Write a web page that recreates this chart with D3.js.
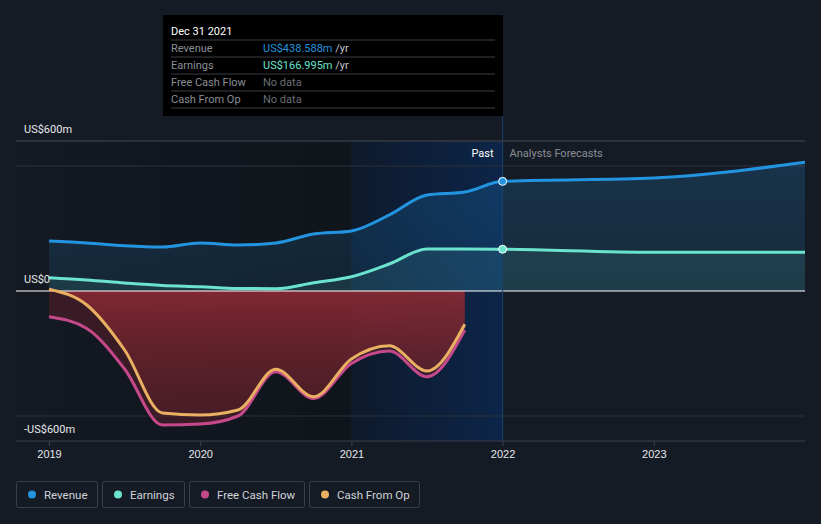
<!DOCTYPE html>
<html>
<head>
<meta charset="utf-8">
<script src="https://cdn.jsdelivr.net/npm/d3@7"></script>
<style>
  body { margin: 0; background: #151b25; }
  svg { display: block; font-family: Roboto, "Noto Sans", sans-serif; }
</style>
</head>
<body>
<div id="chart"></div>
<script>
// values in US$m, dates as decimal years
const pastDates = [2019, 2019.25, 2019.5, 2019.75, 2020, 2020.25, 2020.5, 2020.75, 2021, 2021.25, 2021.5, 2021.75, 2022];
const revenuePast = [200, 192, 181, 176, 192, 184, 192, 228, 240, 304, 384, 396, 438.588];
const earningsPast = [53, 44, 32, 22, 17, 10, 9, 33, 57, 108, 168, 168, 166.995];

const forecastDates = [2022, 2023, 2024];
const revenueForecast = [438.588, 452, 515];
const earningsForecast = [166.995, 155, 155];

const cashDates = [2019, 2019.25, 2019.5, 2019.75, 2020, 2020.25, 2020.5, 2020.75, 2021, 2021.25, 2021.5, 2021.75];
const fcf = [-103, -150, -312, -536, -532, -500, -323, -430, -290, -240, -343, -156];
const cfo = [7, -56, -236, -488, -496, -476, -313, -423, -272, -219, -320, -133];

const yearTicks = [2019, 2020, 2021, 2022, 2023];
const yLabels = [[600, "US$600m"], [0, "US$0"], [-600, "-US$600m"]];
const gridValues = [600, 500, -500];

const seriesNames = ["Revenue", "Earnings", "Free Cash Flow", "Cash From Op"];
const seriesColors = ["#2394df", "#6be3cf", "#c5498a", "#e9b061"];

const tipRows = [
  ["Revenue", "US$438.588m", " /yr", "#2394df"],
  ["Earnings", "US$166.995m", " /yr", "#6be3cf"],
  ["Free Cash Flow", "No data", "", "#6b6f76"],
  ["Cash From Op", "No data", "", "#6b6f76"]
];

const W = 821, H = 524;
const svg = d3.select("#chart").append("svg").attr("width", W).attr("height", H);

const x = d3.scaleLinear().domain([2019, 2024]).range([49, 805]);
const y = d3.scaleLinear().domain([-600, 600]).range([441, 141]);
const left = 16, right = 805, now = 2022, pastStart = 2021;

const defs = svg.append("defs");
const g1 = defs.append("linearGradient").attr("id", "pastBand").attr("x1", 0).attr("x2", 1).attr("y1", 0).attr("y2", 0);
g1.append("stop").attr("offset", 0).attr("stop-color", "#0e1a2c");
g1.append("stop").attr("offset", 1).attr("stop-color", "#0c2548");
const g0 = defs.append("linearGradient").attr("id", "leftBand").attr("x1", 0).attr("x2", 1);
g0.append("stop").attr("offset", 0).attr("stop-color", "#141922");
g0.append("stop").attr("offset", 1).attr("stop-color", "#10141b");
const gRed = defs.append("linearGradient").attr("id", "redFill").attr("x1", 0).attr("x2", 0).attr("y1", 0).attr("y2", 1);
gRed.append("stop").attr("offset", 0).attr("stop-color", "#8a2a33").attr("stop-opacity", 0.88);
gRed.append("stop").attr("offset", 1).attr("stop-color", "#5a1f28").attr("stop-opacity", 0.45);
const gRev = defs.append("linearGradient").attr("id", "revFill").attr("x1", 0).attr("x2", 0).attr("y1", 0).attr("y2", 1);
gRev.append("stop").attr("offset", 0).attr("stop-color", "#2394df").attr("stop-opacity", 0.2);
gRev.append("stop").attr("offset", 1).attr("stop-color", "#2394df").attr("stop-opacity", 0.12);

// background bands
svg.append("rect").attr("x", left).attr("y", 141).attr("width", x(pastStart) - left).attr("height", 300).attr("fill", "url(#leftBand)");
svg.append("rect").attr("x", x(pastStart)).attr("y", 141).attr("width", x(now) - x(pastStart)).attr("height", 300).attr("fill", "url(#pastBand)");

// grid
svg.selectAll("line.grid").data(gridValues).enter().append("line")
  .attr("x1", left).attr("x2", right).attr("y1", d => y(d)).attr("y2", d => y(d))
  .attr("stroke", "#2c313b").attr("stroke-width", 1);

const curve = d3.curveMonotoneX;
const zip = (ds, vs) => ds.map((d, i) => [d, vs[i]]);

const area = d3.area().curve(curve).x(d => x(d[0])).y0(y(0)).y1(d => y(d[1]));
const line = d3.line().curve(curve).x(d => x(d[0])).y(d => y(d[1]));

const revAll = zip(pastDates, revenuePast).concat(zip(forecastDates, revenueForecast).slice(1));
const earnAll = zip(pastDates, earningsPast).concat(zip(forecastDates, earningsForecast).slice(1));

// revenue / earnings fills
svg.append("path").datum(revAll).attr("d", area).attr("fill", "url(#revFill)");
svg.append("path").datum(earnAll).attr("d", area).attr("fill", "#6be3cf").attr("opacity", 0.1);

// cash flow fills
svg.append("path").datum(zip(cashDates, fcf)).attr("d", area).attr("fill", "#5a1f2c").attr("opacity", 0.55);
svg.append("path").datum(zip(cashDates, cfo)).attr("d", area).attr("fill", "url(#redFill)");

// zero line
svg.append("line").attr("x1", left).attr("x2", right).attr("y1", y(0)).attr("y2", y(0))
  .attr("stroke", "#ffffff").attr("stroke-width", 1.2);

// lines
svg.append("path").datum(zip(cashDates, fcf)).attr("d", line).attr("fill", "none").attr("stroke", seriesColors[2]).attr("stroke-width", 3);
svg.append("path").datum(zip(cashDates, cfo)).attr("d", line).attr("fill", "none").attr("stroke", seriesColors[3]).attr("stroke-width", 3);
svg.append("path").datum(earnAll).attr("d", line).attr("fill", "none").attr("stroke", seriesColors[1]).attr("stroke-width", 3);
svg.append("path").datum(revAll).attr("d", line).attr("fill", "none").attr("stroke", seriesColors[0]).attr("stroke-width", 3);

// now line
svg.append("line").attr("x1", x(now)).attr("x2", x(now)).attr("y1", 116).attr("y2", 441)
  .attr("stroke", "#1a406e").attr("stroke-width", 1);

// markers at now
svg.append("circle").attr("cx", x(now)).attr("cy", y(revenuePast[revenuePast.length - 1])).attr("r", 4)
  .attr("fill", seriesColors[0]).attr("stroke", "#ffffff").attr("stroke-width", 1);
svg.append("circle").attr("cx", x(now)).attr("cy", y(earningsPast[earningsPast.length - 1])).attr("r", 4)
  .attr("fill", seriesColors[1]).attr("stroke", "#ffffff").attr("stroke-width", 1);

// top border and bottom axis
svg.append("line").attr("x1", left).attr("x2", right).attr("y1", 141).attr("y2", 141).attr("stroke", "#3a3f49");
const xAxis = d3.axisBottom(x).tickValues(yearTicks).tickFormat(d3.format("d")).tickSize(5).tickPadding(4);
const ax = svg.append("g").attr("transform", `translate(0,${y(-600)})`).call(xAxis);
ax.select(".domain").remove();
ax.insert("line", ":first-child").attr("x1", left).attr("x2", right).attr("stroke", "#3a3f49");
ax.selectAll(".tick line").attr("stroke", "#3a3f49");
ax.selectAll(".tick text").attr("fill", "#e6e8eb").attr("font-size", 11);

// y labels
svg.selectAll("text.ylab").data(yLabels).enter().append("text")
  .attr("x", 24).attr("y", d => y(d[0]) - 8)
  .attr("fill", "#e6e8eb").attr("font-size", 11).text(d => d[1]);

// past / forecast labels
svg.append("text").attr("x", x(now) - 9).attr("y", 157).attr("text-anchor", "end")
  .attr("fill", "#ffffff").attr("font-size", 11).text("Past");
svg.append("text").attr("x", x(now) + 7).attr("y", 157)
  .attr("fill", "#8a8e95").attr("font-size", 11).text("Analysts Forecasts");

// tooltip
const tip = svg.append("g");
tip.append("rect").attr("x", 163).attr("y", 15).attr("width", 340).attr("height", 101).attr("fill", "#000000");
tip.append("text").attr("x", 171).attr("y", 35).attr("fill", "#ffffff").attr("font-size", 11).text("Dec 31 2021");
tipRows.forEach((r, i) => {
  const ty = 40 + i * 17;
  tip.append("line").attr("x1", 171).attr("x2", 495).attr("y1", ty).attr("y2", ty).attr("stroke", "#3a3d42");
  tip.append("text").attr("x", 171).attr("y", ty + 12).attr("fill", "#8a8e95").attr("font-size", 11).text(r[0]);
  const t = tip.append("text").attr("x", 263).attr("y", ty + 12).attr("font-size", 11);
  t.append("tspan").attr("fill", r[3]).text(r[1]);
  t.append("tspan").attr("fill", "#c0c3c8").text(r[2]);
});
tip.append("line").attr("x1", 171).attr("x2", 495).attr("y1", 108).attr("y2", 108).attr("stroke", "#3a3d42");

// legend
const legendX = [16, 102, 189, 309];
const legendW = [81, 82, 115, 110];
seriesNames.forEach((n, i) => {
  const lg = svg.append("g").attr("transform", `translate(${legendX[i]},481)`);
  lg.append("rect").attr("x", 0.5).attr("y", 0.5).attr("width", legendW[i]).attr("height", 26).attr("rx", 2)
    .attr("fill", "none").attr("stroke", "#3a3f49");
  lg.append("circle").attr("cx", 16).attr("cy", 13.5).attr("r", 4).attr("fill", seriesColors[i]);
  lg.append("text").attr("x", 28).attr("y", 17.5).attr("fill", "#d0d3d8").attr("font-size", 11.5).text(n);
});
</script>
</body>
</html>
